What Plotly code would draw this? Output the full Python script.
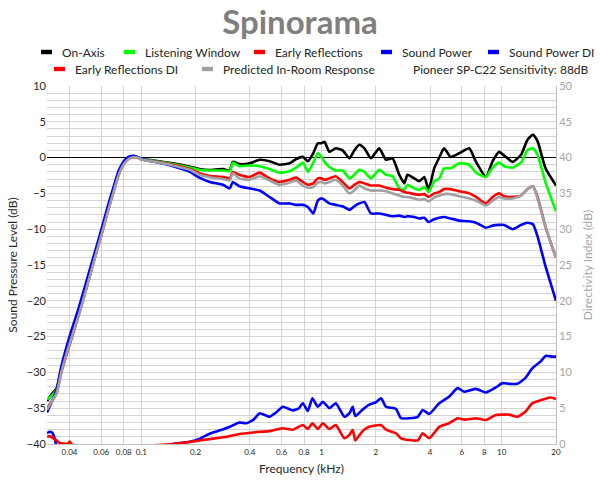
import plotly.graph_objects as go
import math

# ---------------- data ----------------
FREQ_KHZ = [0.030, 0.032, 0.034, 0.036, 0.040, 0.045, 0.050, 0.055, 0.060, 0.065,
            0.070, 0.075, 0.080, 0.085, 0.090, 0.095, 0.100, 0.120, 0.150, 0.186,
            0.210, 0.240, 0.284, 0.310, 0.322, 0.350, 0.400, 0.454, 0.515, 0.585,
            0.665, 0.724, 0.788, 0.840, 0.900, 0.954, 1.000, 1.040, 1.107, 1.200,
            1.310, 1.430, 1.520, 1.620, 1.730, 1.880, 2.090, 2.280, 2.480, 2.700,
            2.880, 3.000, 3.270, 3.490, 3.720, 3.930, 4.220, 4.500, 4.790, 5.200,
            5.800, 6.600, 7.200, 8.170, 8.900, 9.680, 10.30, 11.50, 12.80, 13.90,
            14.90, 15.80, 17.50, 20.00]

ON_AXIS = [-34.0, -33.0, -32.2, -29.5, -25.5, -21.3, -17.5, -13.8, -10.5, -7.3,
           -4.6, -2.1, -0.7, -0.05, 0.2, 0.1, -0.15, -0.45, -0.8, -1.27,
           -1.6, -1.73, -1.6, -1.8, -0.6, -0.9, -0.8, -0.3, -0.5, -1.0,
           -0.8, -0.2, 0.1, -0.5, 0.6, 2.0, 2.0, 2.2, 0.8, 1.3,
           1.0, -0.1, 1.0, 1.8, 1.3, -0.1, 1.3, -0.3, -0.1, -2.4,
           -3.6, -2.4, -2.9, -3.3, -2.7, -4.5, -1.5, 0.0, 1.3, 0.1,
           0.6, 1.3, -0.6, -2.7, -0.5, 0.8, 0.3, -0.6, 0.4, 2.5,
           3.2, 2.3, -1.5, -3.9]

LISTENING_WINDOW = [-33.8, -33.2, -32.3, -29.5, -25.5, -21.5, -17.5, -13.8, -10.5, -7.3,
                    -4.6, -2.1, -0.7, -0.05, 0.2, 0.1, -0.15, -0.5, -0.9, -1.4,
                    -1.7, -1.8, -1.8, -1.9, -0.7, -1.2, -1.1, -1.2, -1.6, -2.1,
                    -1.9, -1.4, -0.7, -2.0, -0.7, 0.6, 0.1, -0.6, -1.3, -1.8,
                    -1.8, -2.9, -2.4, -1.7, -2.0, -2.9, -1.7, -2.4, -2.6, -4.3,
                    -4.5, -3.8, -4.3, -4.5, -4.1, -4.8, -3.3, -2.9, -1.5, -1.5,
                    -0.8, -1.0, -2.1, -2.7, -1.4, -0.7, -1.2, -1.4, -0.7, 1.06,
                    1.3, 0.4, -3.5, -7.5]

EARLY_REFLECTIONS = [-35.0, -34.0, -32.8, -30.0, -26.2, -22.0, -18.0, -14.2, -10.9, -7.7,
                     -4.9, -2.4, -0.9, -0.2, 0.05, 0.0, -0.25, -0.55, -1.0, -1.6,
                     -2.2, -2.57, -2.7, -2.9, -2.0, -2.4, -2.7, -2.1, -2.9, -3.4,
                     -3.1, -2.8, -3.4, -3.8, -3.6, -2.9, -2.9, -3.1, -2.9, -2.6,
                     -3.4, -4.3, -3.8, -3.4, -3.6, -3.9, -3.9, -4.2, -4.4, -4.5,
                     -4.8, -4.9, -5.1, -5.2, -5.1, -5.5, -5.0, -4.8, -4.4, -4.4,
                     -4.7, -5.0, -5.5, -6.4, -5.5, -5.0, -5.4, -5.5, -5.3, -4.4,
                     -4.0, -5.5, -9.7, -14.0]

SOUND_POWER = [-35.6, -34.0, -32.3, -29.2, -25.0, -21.0, -17.0, -13.4, -10.1, -6.9,
               -4.2, -1.8, -0.5, 0.1, 0.25, 0.1, -0.2, -0.6, -1.2, -1.97,
               -2.8, -3.4, -3.8, -4.3, -3.4, -4.0, -4.3, -4.6, -5.5, -6.4,
               -6.4, -6.6, -6.6, -6.9, -7.8, -6.0, -5.7, -5.9, -6.4, -6.6,
               -6.8, -7.3, -6.8, -6.4, -6.2, -7.8, -7.8, -8.0, -8.2, -8.1,
               -8.3, -8.2, -8.3, -8.5, -8.4, -9.0, -8.6, -8.4, -8.3, -8.5,
               -8.8, -8.9, -9.1, -9.8, -9.5, -9.4, -9.4, -10.0, -9.4, -9.1,
               -9.3, -11.0, -15.2, -20.0]

PREDICTED_IN_ROOM = [-35.2, -34.0, -32.8, -30.0, -26.0, -22.0, -18.0, -14.2, -10.9, -7.7,
                     -4.9, -2.4, -0.9, -0.2, 0.05, 0.0, -0.25, -0.6, -1.1, -1.7,
                     -2.4, -2.75, -3.0, -3.2, -2.2, -2.9, -3.1, -2.6, -3.2, -3.8,
                     -3.5, -3.2, -3.9, -4.2, -4.1, -3.5, -3.4, -3.6, -3.4, -3.1,
                     -3.9, -5.0, -4.6, -3.9, -4.3, -4.6, -4.6, -4.7, -5.0, -5.3,
                     -5.5, -5.5, -5.7, -5.9, -5.8, -6.1, -5.6, -5.3, -5.1, -5.1,
                     -5.4, -5.7, -6.0, -6.7, -6.0, -5.5, -5.7, -5.7, -5.3, -4.4,
                     -4.0, -5.7, -9.7, -14.0]

SP_DI_FREQ = [0.030, 0.031, 0.032, 0.033, 0.034, 0.036, 0.040, 0.060, 0.100, 0.140,
              0.150, 0.186, 0.210, 0.225, 0.250, 0.280, 0.310, 0.350, 0.383, 0.420,
              0.454, 0.515, 0.560, 0.610, 0.694, 0.750, 0.788, 0.840, 0.890, 0.954,
              1.017, 1.107, 1.200, 1.340, 1.430, 1.490, 1.540, 1.690, 1.840, 2.000,
              2.140, 2.280, 2.590, 2.760, 3.070, 3.420, 3.640, 3.960, 4.500, 5.100,
              5.690, 6.200, 7.200, 8.170, 9.270, 10.10, 11.00, 12.20, 13.50, 14.80,
              16.40, 17.50, 19.10, 20.00]
SOUND_POWER_DI = [1.5, 1.7, 1.6, 0.9, -0.5, -1.5, -1.5, -2.0, -1.5, -0.3,
                  0.0, 0.3, 0.7, 1.1, 1.6, 2.0, 2.4, 3.0, 2.9, 3.4,
                  4.3, 3.8, 4.4, 5.2, 4.7, 5.0, 5.7, 4.6, 6.4, 5.2,
                  5.9, 5.0, 5.7, 3.8, 4.3, 5.2, 3.9, 4.8, 5.5, 5.8,
                  6.4, 5.2, 4.9, 3.6, 3.6, 3.8, 4.75, 4.2, 5.7, 6.6,
                  7.8, 7.3, 7.7, 7.2, 7.9, 8.5, 8.4, 8.4, 9.2, 10.6,
                  11.5, 12.3, 12.2, 12.2]

ER_DI_FREQ = [0.030, 0.031, 0.033, 0.035, 0.037, 0.039, 0.040, 0.041, 0.043, 0.060,
              0.100, 0.120, 0.150, 0.186, 0.220, 0.260, 0.296, 0.350, 0.383, 0.454,
              0.515, 0.610, 0.694, 0.788, 0.840, 0.890, 0.954, 1.017, 1.107, 1.200,
              1.340, 1.430, 1.490, 1.540, 1.690, 1.840, 2.140, 2.280, 2.590, 2.760,
              3.070, 3.420, 3.640, 3.960, 4.500, 5.100, 5.690, 6.200, 7.200, 8.170,
              9.270, 10.10, 11.00, 12.20, 13.50, 14.80, 16.40, 18.50, 20.00]
EARLY_REFLECTIONS_DI = [1.0, 1.1, 0.7, 0.2, 0.05, 0.0, 0.35, 0.0, -0.3, -0.6,
                        -0.5, -0.15, 0.0, 0.3, 0.56, 0.8, 1.0, 1.4, 1.5, 1.7,
                        1.8, 2.2, 2.0, 2.65, 2.1, 2.9, 2.1, 2.9, 2.1, 2.65,
                        0.8, 1.3, 2.0, 0.5, 1.8, 2.4, 2.65, 2.0, 1.5, 0.8,
                        0.56, 0.5, 1.5, 0.8, 2.4, 2.9, 3.6, 3.4, 3.6, 3.35,
                        4.05, 4.1, 4.1, 3.8, 4.5, 5.7, 6.1, 6.5, 6.3]

X_TICKS = [0.04, 0.06, 0.08, 0.1, 0.2, 0.4, 0.6, 0.8, 1, 2, 4, 6, 8, 10, 20]
X_TICK_TEXT = ["0.04", "0.06", "0.08", "0.1", "0.2", "0.4", "0.6", "0.8",
               "1", "2", "4", "6", "8", "10", "20"]

TITLE = "Spinorama"
SUBTITLE = "Pioneer SP-C22 Sensitivity: 88dB"

# ---------------- figure ----------------
FONT = "Lato"
LW = 2.6
W, H = 600, 480
ML, MR, MT, MB = 47, 44, 86, 36
PW, PH = W - ML - MR, H - MT - MB

SERIES = [
    # name, x, y, colour, axis, legend row, legend start px
    ("On-Axis", FREQ_KHZ, ON_AXIS, "#000000", "y", 1, 41),
    ("Listening Window", FREQ_KHZ, LISTENING_WINDOW, "#00ff00", "y", 1, 124),
    ("Early Reflections", FREQ_KHZ, EARLY_REFLECTIONS, "#ff0000", "y", 1, 254),
    ("Sound Power", FREQ_KHZ, SOUND_POWER, "#0000ff", "y", 1, 381),
    ("Sound Power DI", SP_DI_FREQ, SOUND_POWER_DI, "#0000ff", "y2", 1, 488),
    ("Early Reflections DI", ER_DI_FREQ, EARLY_REFLECTIONS_DI, "#ff0000", "y2", 2, 54),
    ("Predicted In-Room Response", FREQ_KHZ, PREDICTED_IN_ROOM, "#a0a0a0", "y", 2, 202),
]
ROW_Y_PX = {1: 52, 2: 69}

fig = go.Figure()
shapes, annotations = [], []
for name, xs, ys, col, ax, row, lx in SERIES:
    fig.add_trace(go.Scatter(x=xs, y=ys, name=name, mode="lines", yaxis=ax,
                             line=dict(color=col, width=LW, shape="spline", smoothing=0.5),
                             showlegend=False))
    yc = (H - MB - ROW_Y_PX[row]) / PH
    x0 = (lx - ML) / PW
    x1 = (lx + 11 - ML) / PW
    shapes.append(dict(type="rect", xref="paper", yref="paper", x0=x0, x1=x1,
                       y0=yc - 2.2 / PH, y1=yc + 2.2 / PH, fillcolor=col, line=dict(width=0)))
    annotations.append(dict(text=name, xref="paper", yref="paper", x=(lx + 19 - ML) / PW, y=yc,
                            xanchor="left", yanchor="middle", showarrow=False,
                            font=dict(family=FONT, size=12, color="#262626")))

annotations.append(dict(text=SUBTITLE, xref="paper", yref="paper",
                        x=(411 - ML) / PW, y=(H - MB - ROW_Y_PX[2]) / PH,
                        xanchor="left", yanchor="middle", showarrow=False,
                        font=dict(family=FONT, size=12, color="#262626")))

grid = "#d4d4d4"
fig.update_layout(
    width=W, height=H,
    margin=dict(l=ML, r=MR, t=MT, b=MB, autoexpand=False),
    paper_bgcolor="white", plot_bgcolor="white",
    font=dict(family=FONT, color="#262626"),
    showlegend=False,
    title=dict(text="<b>" + TITLE + "</b>", x=0.5, xanchor="center", y=1 - 22 / H, yanchor="middle",
               font=dict(family=FONT, size=33, color="#7f7f7f")),
    xaxis=dict(type="log", range=[math.log10(0.03), math.log10(20)], automargin=False,
               tickvals=X_TICKS, ticktext=X_TICK_TEXT, tickfont=dict(size=8, color="#262626"),
               showgrid=True, gridcolor=grid, gridwidth=1, showline=True, linecolor="#bfbfbf",
               ticks="", zeroline=False,
               title=dict(text="Frequency (kHz)", font=dict(size=12, color="#262626"), standoff=9)),
    yaxis=dict(range=[-40, 10], dtick=5, tickfont=dict(size=11, color="#262626"), automargin=False,
               showgrid=True, gridcolor=grid, gridwidth=1,
               minor=dict(dtick=1, showgrid=True, gridcolor=grid, gridwidth=1),
               zeroline=True, zerolinecolor="#000000", zerolinewidth=1,
               ticks="", showline=False,
               title=dict(text="Sound Pressure Level (dB)", font=dict(size=12, color="#262626"), standoff=6)),
    yaxis2=dict(range=[0, 50], dtick=5, overlaying="y", side="right", automargin=False,
                tickfont=dict(size=11, color="#a6a6a6"), showgrid=False, zeroline=False,
                showline=True, linecolor="#bfbfbf", ticks="",
                title=dict(text="Directivity Index (dB)", font=dict(size=12, color="#a6a6a6"), standoff=12)),
    shapes=shapes,
    annotations=annotations,
)

fig.write_html("out.html", config={"displayModeBar": False},
               post_script="document.body.style.margin='0px';document.body.style.overflow='hidden';")
